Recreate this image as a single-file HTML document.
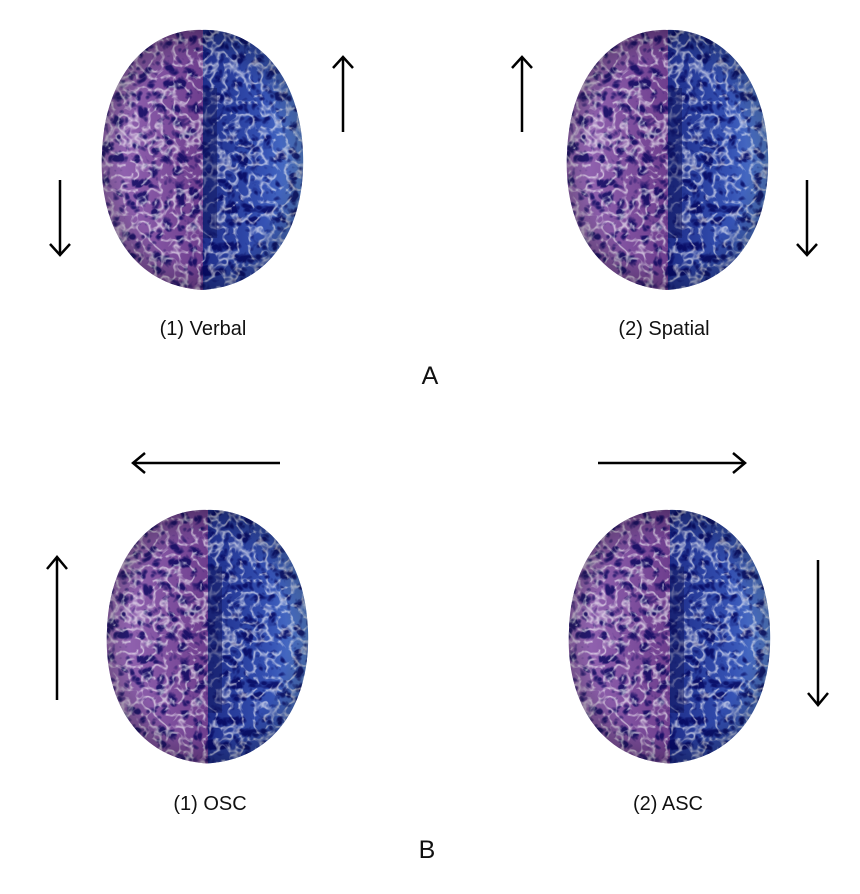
<!DOCTYPE html>
<html><head><meta charset="utf-8"><style>
html,body{margin:0;padding:0;background:#fff;}
body{width:860px;height:894px;position:relative;overflow:hidden;font-family:"Liberation Sans",sans-serif;}
.t{position:absolute;font-size:20px;color:#111;transform:translateX(-50%);white-space:nowrap;}
.big{font-size:25px;}
</style></head><body>
<svg width="860" height="894" style="position:absolute;left:0;top:0">
<defs>
<linearGradient id="gp" x1="0" x2="1"><stop offset="0" stop-color="#9a6cb8"/><stop offset="1" stop-color="#6e3e8e"/></linearGradient>
<linearGradient id="gb" x1="0" x2="1"><stop offset="0" stop-color="#1f2e8a"/><stop offset="0.6" stop-color="#3552b4"/><stop offset="1" stop-color="#5a86d4"/></linearGradient>
<radialGradient id="vg" cx="0.5" cy="0.5" r="0.55"><stop offset="0.7" stop-color="#000" stop-opacity="0"/><stop offset="1" stop-color="#000" stop-opacity="0.35"/></radialGradient>
<clipPath id="bc"><path d="M102,2 C150,0 200,40 203,125 C206,200 170,258 102,262 C35,258 -2,200 2,125 C5,40 55,0 102,2Z"/></clipPath>
<filter id="tex" x="0" y="0" width="1" height="1">
<feTurbulence type="turbulence" baseFrequency="0.08" numOctaves="2" seed="3"/>
<feColorMatrix type="matrix" values="0 0 0 0 1  0 0 0 0 1  0 0 0 0 1  0 0 0 -5 1.15"/>
</filter>
<filter id="tex2" x="0" y="0" width="1" height="1">
<feTurbulence type="turbulence" baseFrequency="0.08" numOctaves="2" seed="8"/>
<feColorMatrix type="matrix" values="0 0 0 0 0  0 0 0 0 0  0 0 0 0 0.1  0 0 0 4 -1.0"/>
</filter>
<g id="brain">
<g clip-path="url(#bc)">
<rect x="0" y="0" width="103" height="265" fill="url(#gp)"/>
<rect x="103" y="0" width="103" height="265" fill="url(#gb)"/>
<rect x="0" y="0" width="206" height="265" filter="url(#tex2)" opacity="0.75"/>
<rect x="0" y="0" width="206" height="265" filter="url(#tex)" opacity="0.6"/>
<rect x="103" y="60" width="14" height="150" fill="#141a60" opacity="0.5"/>
<rect x="0" y="0" width="206" height="265" fill="url(#vg)"/>
</g>
</g>
</defs>
<use href="#brain" x="100" y="28"/>
<use href="#brain" x="565" y="28"/>
<g transform="translate(105,508) scale(1,0.975)"><use href="#brain"/></g>
<g transform="translate(567,508) scale(1,0.975)"><use href="#brain"/></g>
<g stroke="#000" stroke-width="2.5" fill="none">
<line x1="60" y1="180" x2="60" y2="254"/><polyline points="50,244 60,255 70,244"/>
<line x1="343" y1="132" x2="343" y2="58"/><polyline points="333,68 343,57 353,68"/>
<line x1="522" y1="132" x2="522" y2="58"/><polyline points="512,68 522,57 532,68"/>
<line x1="807" y1="180" x2="807" y2="254"/><polyline points="797,244 807,255 817,244"/>
<line x1="280" y1="463" x2="134" y2="463"/><polyline points="145,453 133,463 145,473"/>
<line x1="598" y1="463" x2="744" y2="463"/><polyline points="733,453 745,463 733,473"/>
<line x1="57" y1="700" x2="57" y2="558"/><polyline points="47,569 57,557 67,569"/>
<line x1="818" y1="560" x2="818" y2="704"/><polyline points="808,693 818,705 828,693"/>
</g>
</svg>
<div class="t" style="left:203px;top:318px">(1) Verbal</div>
<div class="t" style="left:664px;top:318px">(2) Spatial</div>
<div class="t big" style="left:430px;top:362px">A</div>
<div class="t" style="left:210px;top:793px">(1) OSC</div>
<div class="t" style="left:668px;top:793px">(2) ASC</div>
<div class="t big" style="left:427px;top:836px">B</div>
</body></html>
